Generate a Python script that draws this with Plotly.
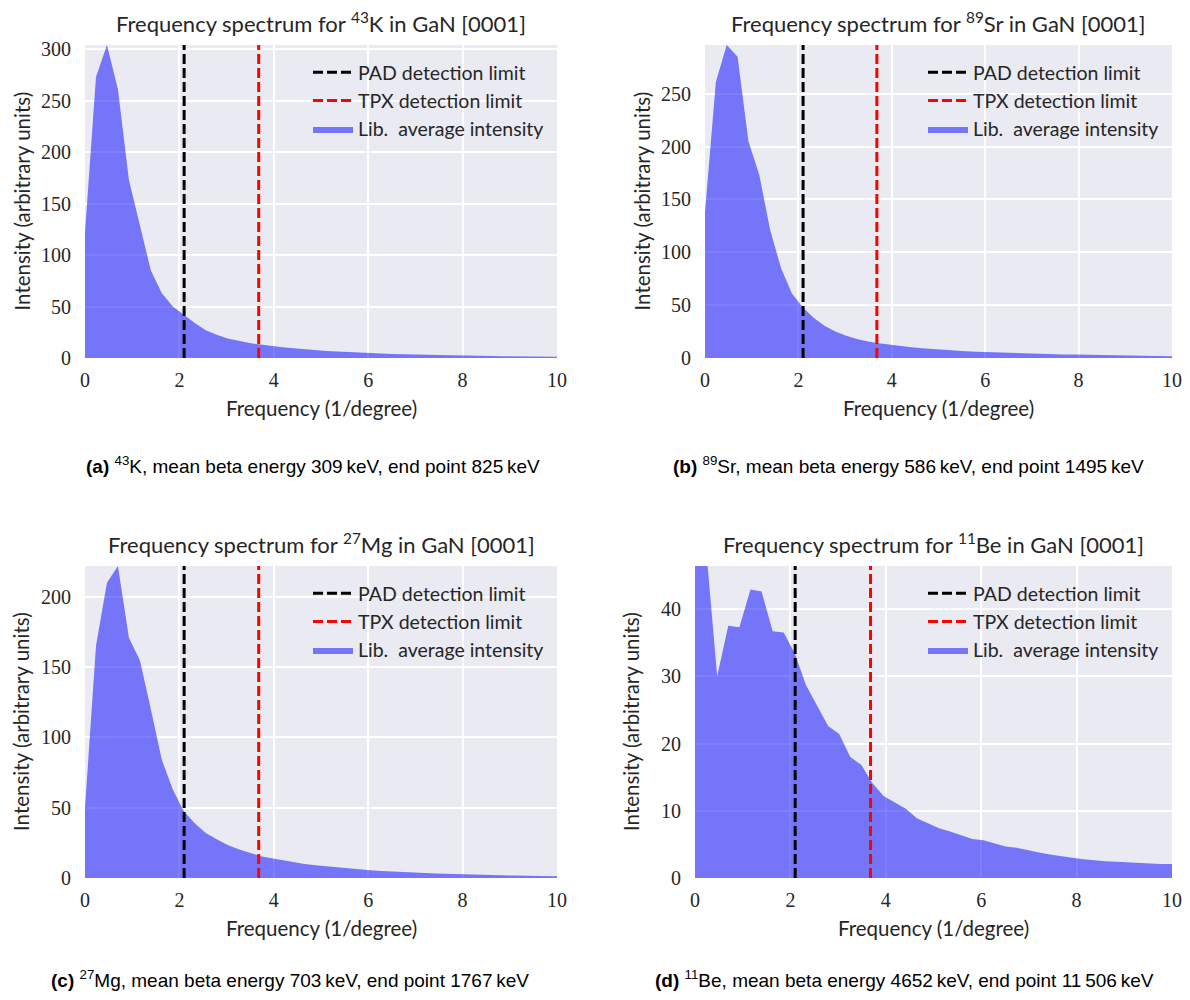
import plotly.graph_objects as go

N = 44
freq = [k * 10 / 43 for k in range(N)]

k43 = [122, 273, 304, 261, 173, 129, 85, 63, 50, 42, 34, 27, 22.5, 19, 16.5, 14.5, 13, 11.5,
       10.5, 9.5, 8.5, 7.6, 6.9, 6.3, 5.7, 5.2, 4.8, 4.4, 4.0, 3.7, 3.4, 3.1, 2.9, 2.7, 2.5,
       2.3, 2.1, 2.0, 1.8, 1.7, 1.6, 1.5, 1.4, 1.3]
sr89 = [138, 261, 296, 285, 205, 173, 121, 85, 61, 48, 38, 30.5, 25, 21, 18, 15.5, 14, 12.5,
        11.3, 10.2, 9.2, 8.4, 7.7, 7.0, 6.4, 5.9, 5.5, 5.1, 4.7, 4.4, 4.1, 3.8, 3.6, 3.4, 3.2,
        3.0, 2.8, 2.6, 2.4, 2.2, 2.0, 1.9, 1.7, 1.6]
mg27 = [50, 165, 210, 222, 171, 155, 120, 84, 63, 47.5, 39, 32, 27.5, 23.5, 20.5, 18, 15.5, 14,
        12.5, 11.2, 10, 9, 8.2, 7.4, 6.7, 6.1, 5.5, 5.0, 4.5, 4.1, 3.8, 3.5, 3.2, 2.9, 2.7,
        2.5, 2.3, 2.1, 1.9, 1.7, 1.6, 1.4, 1.3, 1.2]
be11 = [55, 49, 30, 37.5, 37.3, 42.9, 42.6, 36.7, 36.5, 33.4, 28.7, 25.7, 22.6, 21.4, 18, 16.8,
        14.1, 12.2, 11.3, 10.3, 8.9, 8.2, 7.4, 6.9, 6.4, 5.8, 5.6, 5.2, 4.7, 4.5, 4.1, 3.8, 3.5,
        3.2, 3.0, 2.8, 2.6, 2.5, 2.4, 2.3, 2.2, 2.2, 2.1, 2.1]

pad_limit = 2.1
tpx_limit = 3.68

isotopes = ["43", "89", "27", "11"]
elements = ["K", "Sr", "Mg", "Be"]
series = [k43, sr89, mg27, be11]
ymax = [304, 296, 222, 46.4]
ydtick = [50, 50, 50, 10]
captions = [
    "<b>(a)</b> <sup>43</sup>K, mean beta energy 309\u2009keV, end point 825\u2009keV",
    "<b>(b)</b> <sup>89</sup>Sr, mean beta energy 586\u2009keV, end point 1495\u2009keV",
    "<b>(c)</b> <sup>27</sup>Mg, mean beta energy 703\u2009keV, end point 1767\u2009keV",
    "<b>(d)</b> <sup>11</sup>Be, mean beta energy 4652\u2009keV, end point 11\u2009506\u2009keV",
]

# the page body has an 8px margin on each side; the figure fits inside it without scrolling
OFF = 8
W, H = 1190 - 2 * OFF, 1000 - 2 * OFF
# plot areas in window pixels (x0, x1, ytop, ybottom)
boxes = [(85, 557, 45, 358), (705, 1172, 45, 358), (85, 557, 566, 878), (695, 1172, 566, 878)]
caption_pos = [(313, 465), (908, 465), (290, 979), (904, 979)]


def px(x):
    return (x - OFF) / W


def py(y):
    return 1 - (y - OFF) / H


SANS = "Lato, 'Open Sans', sans-serif"
SERIF = "'Liberation Serif', 'DejaVu Serif', serif"
TXT = "#262626"

layout = dict(width=W, height=H, margin=dict(l=0, r=0, t=0, b=0, autoexpand=False),
              paper_bgcolor="white", plot_bgcolor="#EAEAF2", showlegend=True)
annotations = []
traces = []

for i in range(4):
    ax = "" if i == 0 else str(i + 1)
    xa, ya = "x" + ax, "y" + ax
    lg = "legend" if i == 0 else "legend" + str(i + 1)
    x0, x1, yt, yb = boxes[i]
    traces.append(go.Scatter(x=freq, y=series[i], mode="lines", fill="tozeroy",
                             fillcolor="rgba(0,0,255,0.5)", line=dict(width=0, color="rgba(0,0,255,0.5)"),
                             name="Lib.  average intensity", xaxis=xa, yaxis=ya, legend=lg, legendrank=3))
    traces.append(go.Scatter(x=[pad_limit, pad_limit], y=[0, ymax[i]], mode="lines",
                             line=dict(color="black", width=3, dash="10px,4px"),
                             name="PAD detection limit", xaxis=xa, yaxis=ya, legend=lg, legendrank=1))
    traces.append(go.Scatter(x=[tpx_limit, tpx_limit], y=[0, ymax[i]], mode="lines",
                             line=dict(color="red", width=3, dash="10px,4px"),
                             name="TPX detection limit", xaxis=xa, yaxis=ya, legend=lg, legendrank=2))
    layout["xaxis" + ax] = dict(domain=[px(x0), px(x1)], range=[0, 10], dtick=2, anchor=ya,
                               automargin=False,
                               showgrid=True, gridcolor="white", gridwidth=1.5, zeroline=False,
                               showline=False, ticks="", ticklabelstandoff=8,
                               tickfont=dict(family=SERIF, size=20, color=TXT))
    layout["yaxis" + ax] = dict(domain=[py(yb), py(yt)], range=[0, ymax[i]], dtick=ydtick[i],
                               anchor=xa, automargin=False, showgrid=True, gridcolor="white", gridwidth=1.5,
                               zeroline=False, showline=False, ticks="", ticklabelstandoff=13,
                               tickfont=dict(family=SERIF, size=20, color=TXT))
    layout[lg] = dict(x=px(x1 - 8), y=py(yt + 8), xanchor="right", yanchor="top",
                      bgcolor="rgba(0,0,0,0)", font=dict(family=SANS, size=19.5, color=TXT),
                      traceorder="normal", itemwidth=40)
    cx = (x0 + x1) / 2
    annotations.append(dict(text=f"Frequency spectrum for <sup>{isotopes[i]}</sup>{elements[i]} in GaN [0001]",
                            x=px(cx), y=py(yt - 23), xref="paper", yref="paper",
                            showarrow=False, font=dict(family=SANS, size=22, color=TXT),
                            xanchor="center", yanchor="middle"))
    annotations.append(dict(text="Frequency (1/degree)", x=px(cx), y=py(yb + 50),
                            xref="paper", yref="paper", showarrow=False,
                            font=dict(family=SANS, size=20.5, color=TXT), xanchor="center", yanchor="middle"))
    annotations.append(dict(text="Intensity (arbitrary units)", x=px(x0 - 64), y=py((yt + yb) / 2),
                            xref="paper", yref="paper", showarrow=False, textangle=-90,
                            font=dict(family=SANS, size=20.5, color=TXT), xanchor="center", yanchor="middle"))
    cpx, cpy = caption_pos[i]
    annotations.append(dict(text=captions[i], x=px(cpx), y=py(cpy), xref="paper", yref="paper",
                            showarrow=False, font=dict(family="'Liberation Sans', Arial, sans-serif",
                                                       size=19, color="black"),
                            xanchor="center", yanchor="middle"))

fig = go.Figure(data=traces)
layout["annotations"] = annotations
fig.update_layout(**layout)
fig.write_html("out.html")
